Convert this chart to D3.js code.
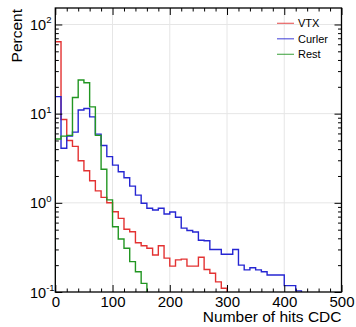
<!DOCTYPE html>
<html>
<head>
	<title></title>
	<style>
		body { margin: 0; background: white; }
		text { font-family: "Liberation Sans", Arial, sans-serif; }
	</style>
</head>
<body>
	<svg id="container" height="327" width="356"></svg>
</body>
<script src="https://d3js.org/d3.v7.min.js"></script>
<script>
	// lower edge of each 10-hit bin
	let binLow = [0, 10, 20, 30, 40, 50, 60, 70, 80, 90,
		100, 110, 120, 130, 140, 150, 160, 170, 180, 190,
		200, 210, 220, 230, 240, 250, 260, 270, 280, 290,
		300, 310, 320, 330, 340, 350, 360, 370, 380, 390,
		400, 410, 420]

	let vtx = [64, 8.6, 5.0, 4.3, 2.96, 2.29, 1.77, 1.36, 1.15, 1.0,
		0.795, 0.67, 0.505, 0.474, 0.357, 0.33, 0.31, 0.26, 0.33, 0.24,
		0.195, 0.229, 0.234, 0.195, 0.195, 0.245, 0.179, 0.162, 0.13, 0.11]

	let curler = [15.5, 4.1, 5.6, 6.2, 11.0, 11.4, 9.2, 5.9, 4.4, 3.3,
		2.65, 2.23, 1.91, 1.54, 1.22, 0.99, 0.87, 0.83, 0.87, 0.75,
		0.79, 0.69, 0.52, 0.49, 0.47, 0.38, 0.375, 0.30, 0.30, 0.265,
		0.265, 0.30, 0.20, 0.177, 0.187, 0.177, 0.169, 0.155, 0.155, 0.155,
		0.118, 0.118, 0.103]

	let rest = [5.2, 5.6, 5.7, 15.2, 23.8, 22.2, 11.9, 5.7, 2.38, 1.08,
		0.54, 0.393, 0.309, 0.219, 0.169, 0.125]

	let seriesNames = ["VTX", "Curler", "Rest"]
	let seriesColors = ["#e33232", "#2626d2", "#229622"]

	let xTicks = [0, 100, 200, 300, 400, 500]
	let yTicks = [0.1, 1, 10, 100]
	let yExponents = ["-1", "0", "1", "2"]

	let svg = d3.select("#container")
	let pLeft = 55.3, pRight = 341.5, pTop = 8, pBottom = 292

	let x = d3.scaleLinear().domain([0, 500]).range([pLeft, pRight])
	let y = d3.scaleLog().domain([0.1, 153]).range([pBottom, pTop])

	// minor tick positions
	let xMinor = d3.range(0, 501, 20).filter(d => d % 100 != 0)
	let yMinor = []
	for (let dec of [0.1, 1, 10, 100])
		for (let m = 2; m <= 9; m++)
			if (dec * m < 153) yMinor.push(dec * m)

	// grid
	let grid = svg.append("g")
	grid.selectAll(".gx").data(xTicks.slice(1, -1)).enter().append("line")
		.attr("x1", d => x(d)).attr("x2", d => x(d))
		.attr("y1", pTop).attr("y2", pBottom)
		.attr("stroke", "#e6e6e6")
	grid.selectAll(".gy").data(yTicks.slice(1)).enter().append("line")
		.attr("x1", pLeft).attr("x2", pRight)
		.attr("y1", d => y(d)).attr("y2", d => y(d))
		.attr("stroke", "#e6e6e6")

	// histograms
	svg.append("clipPath").attr("id", "clip")
		.append("rect").attr("x", pLeft).attr("y", pTop)
		.attr("width", pRight - pLeft).attr("height", pBottom - pTop)

	function stepPoints(values) {
		let pts = [[x(0), pBottom + 2]]
		values.forEach((v, i) => {
			pts.push([x(binLow[i]), y(v)])
			pts.push([x(binLow[i] + 10), y(v)])
		})
		pts.push([x(binLow[values.length - 1] + 10), pBottom + 2])
		return pts
	}

	let line = d3.line()
	let hist = svg.append("g").attr("clip-path", "url(#clip)")
	let allSeries = [vtx, curler, rest]
	allSeries.forEach((vals, i) => {
		hist.append("path")
			.attr("d", line(stepPoints(vals)))
			.attr("fill", "none")
			.attr("stroke", seriesColors[i])
			.attr("stroke-width", 1.4)
	})

	// axes (ROOT style: ticks inside, on all four sides)
	function styleAxis(g) {
		g.select(".domain").remove()
		g.selectAll("line").attr("stroke", "black")
	}

	let gx = svg.append("g").attr("transform", `translate(0,${pBottom})`)
		.call(d3.axisBottom(x).tickValues(xTicks).tickSize(-7).tickPadding(4).tickFormat(d3.format("d")))
		.call(styleAxis)
	gx.selectAll("text").attr("font-size", 15).attr("font-family", null).attr("fill", "black")
	svg.append("g").attr("transform", `translate(0,${pBottom})`)
		.call(d3.axisBottom(x).tickValues(xMinor).tickSize(-3.5).tickFormat(""))
		.call(styleAxis)
	svg.append("g").attr("transform", `translate(0,${pTop})`)
		.call(d3.axisTop(x).tickValues(xTicks).tickSize(-7).tickFormat(""))
		.call(styleAxis)
	svg.append("g").attr("transform", `translate(0,${pTop})`)
		.call(d3.axisTop(x).tickValues(xMinor).tickSize(-3.5).tickFormat(""))
		.call(styleAxis)

	svg.append("g").attr("transform", `translate(${pLeft},0)`)
		.call(d3.axisLeft(y).tickValues(yTicks).tickSize(-7).tickFormat(""))
		.call(styleAxis)
	svg.append("g").attr("transform", `translate(${pLeft},0)`)
		.call(d3.axisLeft(y).tickValues(yMinor).tickSize(-3.5).tickFormat(""))
		.call(styleAxis)
	svg.append("g").attr("transform", `translate(${pRight},0)`)
		.call(d3.axisRight(y).tickValues(yTicks).tickSize(-7).tickFormat(""))
		.call(styleAxis)
	svg.append("g").attr("transform", `translate(${pRight},0)`)
		.call(d3.axisRight(y).tickValues(yMinor).tickSize(-3.5).tickFormat(""))
		.call(styleAxis)

	// log labels 10^n
	let yl = svg.append("g").selectAll("text").data(yTicks).enter().append("text")
		.attr("x", 30).attr("y", d => y(d) + 5.5)
		.attr("font-size", 14.5)
	yl.append("tspan").text("10")
	yl.append("tspan").attr("dy", -6.5).attr("font-size", 9.5).text((d, i) => yExponents[i])

	// frame
	svg.append("rect").attr("x", pLeft).attr("y", pTop)
		.attr("width", pRight - pLeft).attr("height", pBottom - pTop)
		.attr("fill", "none").attr("stroke", "black").attr("stroke-width", 1.3)

	// titles
	svg.append("text").attr("x", pRight).attr("y", 322)
		.attr("text-anchor", "end").attr("font-size", 15.5)
		.text("Number of hits CDC")
	svg.append("text").attr("transform", `translate(22,${pTop + 1}) rotate(-90)`)
		.attr("text-anchor", "end").attr("font-size", 15.5)
		.text("Percent")

	// legend
	let leg = svg.append("g").selectAll("g").data(seriesNames).enter().append("g")
		.attr("transform", (d, i) => `translate(277,${23.3 + i * 15.5})`)
	leg.append("line").attr("x1", 0).attr("x2", 17)
		.attr("stroke", (d, i) => seriesColors[i]).attr("stroke-width", 1.2).attr("opacity", 0.75)
	leg.append("text").attr("x", 21).attr("y", 3.8).attr("font-size", 11).text(d => d)
</script>
</html>
